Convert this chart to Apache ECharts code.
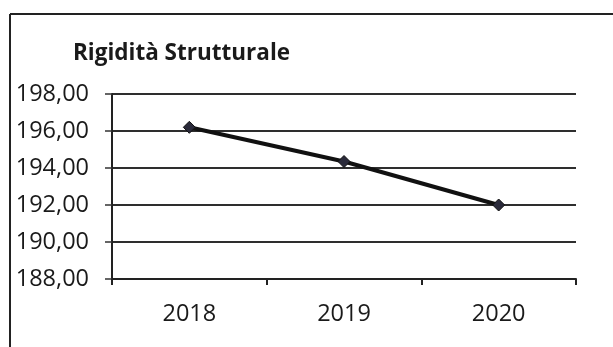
<!DOCTYPE html>
<html>
<head>
<meta charset="utf-8">
<script src="https://cdn.jsdelivr.net/npm/echarts@6/dist/echarts.min.js"></script>
<style>
  html, body { margin: 0; padding: 0; background: #fff; }
  #chart { width: 613px; height: 347px; }
</style>
</head>
<body>
<div id="chart"></div>
<script>
// Structural rigidity by year
const years = ['2018', '2019', '2020'];
const rigidity = [196.2, 194.35, 192.0];
const yMin = 188, yMax = 198, yStep = 2;

const fontFamily = '"Open Sans", Lato, sans-serif';
const chart = echarts.init(document.getElementById('chart'));

chart.setOption({
  backgroundColor: '#ffffff',
  animation: false,
  title: {
    text: 'Rigidità Strutturale',
    left: 68,
    top: 37,
    textStyle: { fontFamily, fontSize: 22.5, fontWeight: 'bold', color: '#1a1a1a' }
  },
  graphic: [
    { type: 'line', shape: { x1: 10, y1: 14, x2: 613, y2: 14 }, style: { stroke: '#222', lineWidth: 2 } },
    { type: 'line', shape: { x1: 10, y1: 14, x2: 10, y2: 347 }, style: { stroke: '#222', lineWidth: 2 } }
  ],
  grid: { left: 112, right: 37, top: 94, bottom: 68, containLabel: false },
  xAxis: {
    type: 'category',
    data: years,
    boundaryGap: true,
    axisLine: { lineStyle: { color: '#222', width: 2 } },
    axisTick: { show: true, length: 6, lineStyle: { color: '#222', width: 2 } },
    axisLabel: { fontFamily, fontSize: 23.5, color: '#1a1a1a', margin: 23 }
  },
  yAxis: {
    type: 'value',
    min: yMin,
    max: yMax,
    interval: yStep,
    axisLine: { show: true, lineStyle: { color: '#222', width: 2 } },
    axisTick: { show: true, length: 7, lineStyle: { color: '#333', width: 1.5 } },
    splitLine: { lineStyle: { color: '#2e2e2e', width: 1.8 } },
    axisLabel: {
      fontFamily, fontSize: 23.5, color: '#1a1a1a', margin: 23,
      formatter: v => v.toFixed(2).replace('.', ',')
    }
  },
  series: [{
    type: 'line',
    data: rigidity,
    symbol: 'diamond',
    symbolSize: 12,
    lineStyle: { color: '#111', width: 4 },
    itemStyle: { color: '#2a2a3a', borderColor: '#111', borderWidth: 1 }
  }]
});
</script>
</body>
</html>
